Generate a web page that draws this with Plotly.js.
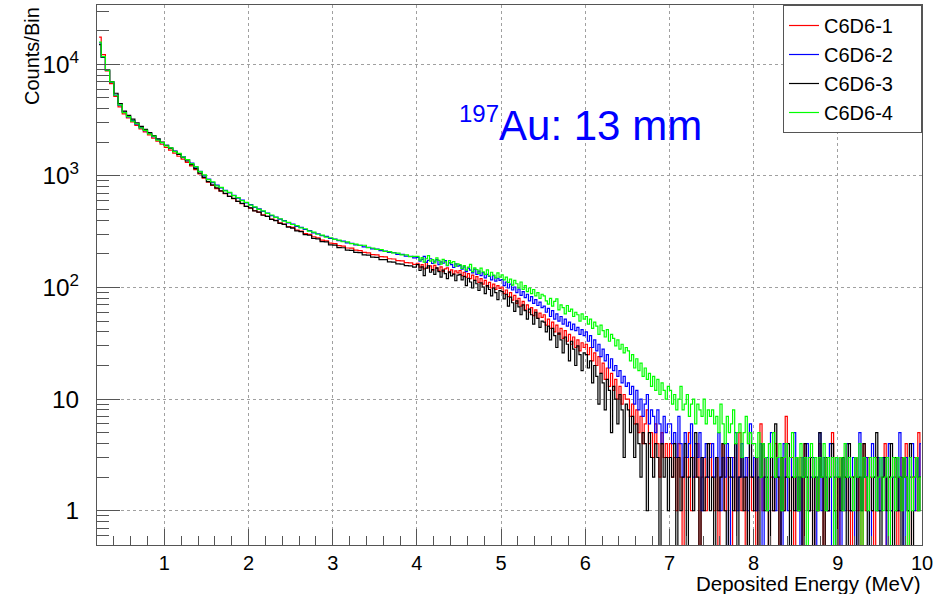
<!DOCTYPE html>
<html>
<head>
<meta charset="utf-8">
<script src="https://cdn.plot.ly/plotly-3.0.1.min.js"></script>
<style>
  html, body { margin: 0; padding: 0; background: #ffffff; }
  #chart { width: 950px; height: 594px; }
</style>
</head>
<body>
<div id="chart"></div>
<script>
// Histogram binning (deposited energy, MeV): coarse part + fine part
const lowMin = 0.2, lowMax = 4.0, lowBins = 76;     // 0.05 MeV bins
const highMin = 4.0, highMax = 10.0, highBins = 240; // 0.025 MeV bins

const seriesNames = ['C6D6-1', 'C6D6-2', 'C6D6-3', 'C6D6-4'];
const seriesColors = ['#ff0000', '#0000ff', '#000000', '#00ff00'];

// ---- counts per bin (0 = empty bin) ----
// C6D6-1 (red)
const c1Low = [
  17500, 12200, 8700, 6700, 5150, 4150, 3600, 3300, 3050, 2840,
  2640, 2480, 2330, 2180, 2050, 1920, 1800, 1700, 1600, 1500,
  1410, 1320, 1230, 1140, 1040, 955, 880, 820, 770, 730,
  693, 654, 625, 590, 565, 533, 515, 487, 473, 447,
  434, 411, 400, 380, 370, 352, 345, 327, 320, 304,
  299, 285, 279, 266, 262, 250, 247, 237, 235, 226,
  225, 216, 214, 206, 204, 197, 196, 189, 188, 181,
  180, 174, 173, 167, 166, 161
];
const c1High = [
  165, 152, 160, 147, 168, 150, 156, 143, 158, 149, 141, 153, 139, 147, 150, 136, 144, 132, 141, 135,
  142, 128, 137, 124, 133, 120, 129, 116, 125, 111, 120, 107, 116, 103, 111, 99, 107, 96, 104, 98,
  101, 88, 95, 83, 90, 77, 85, 72, 80, 68, 75, 63, 70, 60, 66, 56, 63, 53, 59, 54,
  57, 46, 52, 43, 49, 40, 46, 38, 43, 35, 41, 33, 38, 31, 36, 29, 34, 27, 32, 29,
  31, 25, 29, 22, 26, 20, 24, 17, 21, 15, 19, 13, 17, 12, 15, 10, 13, 9, 11, 10,
  10, 7, 9, 6, 8, 5, 7, 4, 6, 8, 4, 5, 3, 6, 4, 2, 5, 3, 4, 3,
  4, 2, 3, 1, 4, 2, 0, 3, 2, 5, 1, 3, 2, 4, 0, 2, 3, 1, 2, 4,
  2, 1, 3, 0, 2, 4, 1, 3, 2, 0, 3, 1, 2, 5, 1, 2, 0, 3, 2, 1,
  3, 0, 2, 6, 1, 2, 3, 0, 2, 1, 4, 2, 0, 3, 1, 7, 2, 1, 3, 0,
  2, 1, 3, 0, 4, 2, 1, 3, 0, 2, 1, 4, 2, 0, 3, 1, 2, 5, 1, 2,
  0, 3, 1, 2, 4, 1, 0, 2, 3, 1, 2, 0, 4, 1, 3, 2, 1, 0, 3, 2,
  1, 2, 4, 0, 2, 1, 3, 2, 0, 1, 3, 2, 4, 1, 0, 2, 3, 1, 5, 2
];
// C6D6-2 (blue)
const c2Low = [
  15500, 11500, 8800, 6900, 5300, 4300, 3720, 3380, 3130, 2900,
  2710, 2540, 2400, 2250, 2120, 1980, 1880, 1770, 1670, 1570,
  1480, 1390, 1300, 1200, 1100, 1000, 935, 870, 825, 780,
  742, 703, 668, 631, 606, 574, 552, 523, 506, 481,
  464, 441, 428, 409, 397, 380, 370, 353, 345, 331,
  323, 309, 303, 291, 287, 276, 272, 263, 260, 251,
  249, 241, 239, 231, 229, 222, 221, 214, 212, 206,
  205, 198, 198, 191, 190, 184
];
const c2High = [
  186, 172, 179, 190, 168, 175, 181, 164, 172, 178, 160, 170, 165, 174, 157, 166, 160, 151, 163, 155,
  158, 146, 153, 139, 149, 143, 135, 146, 131, 140, 128, 136, 122, 131, 126, 117, 128, 114, 121, 116,
  118, 104, 112, 99, 107, 95, 101, 90, 97, 85, 92, 81, 87, 76, 83, 72, 78, 69, 74, 66,
  68, 60, 65, 55, 62, 52, 58, 50, 55, 47, 52, 45, 49, 42, 47, 41, 44, 38, 42, 37,
  40, 33, 37, 29, 34, 27, 31, 24, 28, 22, 25, 19, 23, 18, 20, 16, 18, 14, 16, 13,
  14, 11, 13, 9, 12, 8, 10, 7, 9, 11, 6, 8, 7, 5, 8, 6, 4, 7, 5, 6,
  6, 4, 5, 3, 7, 4, 2, 5, 3, 4, 6, 2, 4, 3, 5, 1, 3, 4, 2, 3,
  4, 2, 3, 5, 1, 3, 2, 4, 0, 3, 2, 5, 1, 2, 4, 2, 3, 1, 6, 2,
  3, 1, 2, 4, 0, 2, 3, 1, 5, 2, 1, 3, 2, 0, 4, 2, 1, 3, 2, 5,
  1, 2, 0, 3, 2, 4, 1, 2, 3, 0, 2, 5, 1, 3, 2, 1, 4, 0, 2, 3,
  2, 0, 3, 1, 4, 2, 1, 3, 0, 2, 5, 1, 2, 3, 1, 0, 4, 2, 1, 3,
  1, 3, 2, 0, 4, 1, 2, 3, 1, 5, 2, 0, 3, 1, 2, 4, 1, 3, 2, 4
];
// C6D6-3 (black)
const c3Low = [
  15000, 11600, 8900, 7000, 5500, 4450, 3800, 3480, 3220, 2990,
  2780, 2610, 2440, 2290, 2150, 2010, 1880, 1770, 1660, 1560,
  1460, 1360, 1260, 1160, 1060, 970, 890, 830, 780, 735,
  696, 655, 628, 590, 568, 533, 517, 486, 474, 444,
  434, 408, 398, 376, 368, 347, 340, 322, 317, 298,
  294, 276, 273, 258, 256, 241, 240, 228, 227, 216,
  215, 206, 205, 196, 195, 187, 186, 178, 178, 170,
  169, 163, 162, 157, 156, 152
];
const c3High = [
  160, 142, 153, 128, 149, 156, 137, 145, 131, 150, 139, 124, 143, 133, 120, 138, 127, 132, 115, 129,
  131, 117, 126, 104, 121, 112, 99, 116, 108, 94, 110, 101, 88, 104, 96, 84, 99, 90, 78, 94,
  92, 79, 87, 68, 82, 73, 61, 76, 67, 57, 70, 62, 52, 64, 57, 47, 60, 53, 44, 50,
  49, 40, 45, 34, 43, 37, 29, 39, 34, 26, 36, 31, 22, 33, 28, 20, 30, 25, 18, 26,
  25, 19, 22, 14, 20, 16, 9, 17, 14, 8, 15, 12, 5, 13, 10, 6, 11, 8, 3, 9,
  8, 5, 7, 3, 6, 4, 2, 5, 4, 1, 5, 3, 2, 4, 3, 0, 4, 2, 3, 1,
  3, 2, 4, 0, 3, 1, 2, 4, 0, 2, 3, 1, 5, 2, 0, 3, 1, 2, 4, 1,
  2, 0, 3, 1, 2, 4, 1, 0, 3, 2, 1, 4, 0, 2, 3, 1, 2, 0, 5, 2,
  1, 3, 0, 2, 4, 1, 2, 0, 3, 1, 6, 2, 0, 3, 1, 2, 4, 0, 2, 1,
  3, 1, 2, 0, 4, 2, 1, 3, 0, 2, 1, 5, 2, 0, 3, 1, 2, 4, 1, 0,
  2, 1, 3, 2, 0, 4, 1, 2, 3, 0, 2, 1, 4, 2, 0, 3, 1, 2, 5, 1,
  0, 2, 3, 1, 2, 4, 0, 3, 1, 2, 0, 3, 2, 1, 4, 0, 2, 3, 1, 2
];
// C6D6-4 (green)
const c4Low = [
  15800, 11700, 8850, 6950, 5280, 4320, 3690, 3400, 3100, 2930,
  2690, 2560, 2380, 2270, 2090, 1990, 1860, 1780, 1650, 1590,
  1470, 1400, 1290, 1210, 1090, 1020, 925, 885, 815, 790,
  735, 712, 665, 638, 600, 580, 548, 528, 502, 486,
  461, 446, 425, 413, 394, 384, 367, 358, 342, 336,
  320, 314, 300, 295, 283, 279, 270, 266, 257, 256,
  247, 245, 238, 239, 228, 226, 220, 218, 211, 210,
  204, 203, 196, 196, 189, 190
];
const c4High = [
  190, 176, 185, 169, 181, 193, 172, 178, 166, 184, 175, 162, 179, 170, 158, 174, 166, 171, 155, 163,
  160, 148, 157, 143, 152, 161, 139, 150, 145, 134, 149, 138, 131, 144, 127, 137, 129, 122, 135, 124,
  130, 117, 124, 111, 119, 105, 116, 108, 99, 112, 96, 104, 92, 99, 88, 96, 84, 90, 80, 87,
  84, 76, 71, 80, 68, 75, 79, 63, 70, 66, 58, 69, 61, 64, 55, 60, 57, 50, 58, 52,
  55, 47, 52, 43, 49, 45, 38, 46, 41, 36, 42, 33, 38, 35, 30, 34, 28, 31, 26, 29,
  27, 22, 25, 19, 23, 18, 21, 16, 19, 15, 17, 13, 16, 12, 15, 11, 14, 12, 10, 13,
  12, 9, 11, 8, 10, 13, 8, 9, 11, 7, 9, 10, 6, 9, 8, 7, 10, 6, 8, 7,
  8, 6, 7, 5, 9, 6, 4, 7, 5, 6, 8, 4, 5, 6, 3, 5, 7, 4, 5, 4,
  4, 3, 5, 2, 4, 3, 1, 4, 3, 5, 2, 3, 4, 1, 3, 4, 2, 3, 5, 2,
  3, 1, 4, 2, 3, 0, 3, 4, 2, 3, 1, 3, 2, 4, 1, 3, 2, 3, 0, 3,
  2, 3, 1, 4, 2, 3, 2, 1, 3, 2, 4, 0, 3, 2, 1, 3, 2, 3, 1, 2,
  3, 1, 2, 3, 0, 2, 3, 1, 3, 2, 1, 3, 2, 0, 3, 1, 2, 3, 1, 2
];

const lowParts = [c1Low, c2Low, c3Low, c4Low];
const highParts = [c1High, c2High, c3High, c4High];

// bin centres from the binning definition
const lowW = (lowMax - lowMin) / lowBins;
const highW = (highMax - highMin) / highBins;
const energyLow = c1Low.map((_, i) => lowMin + (i + 0.5) * lowW);
const energyHigh = c1High.map((_, i) => highMin + (i + 0.5) * highW);
const energy = energyLow.concat(energyHigh);

// empty bins are drawn down to the bottom of the frame, as ROOT does
const emptyDrawLevel = 0.3;
const NB = '\u00a0';

const traces = lowParts.map((low, k) => ({
  type: 'scatter',
  mode: 'lines',
  name: seriesNames[k] + NB + NB + NB + NB,
  x: energy,
  y: low.concat(highParts[k]).map(v => (v > 0 ? v : emptyDrawLevel)),
  line: { color: seriesColors[k], width: 1.2, shape: 'hvh' }
}));

const FONT = '"Liberation Sans", Arial, Helvetica, sans-serif';
const axisColor = '#555555';

const layout = {
  width: 950,
  height: 594,
  margin: { l: 97, r: 28, t: 5, b: 49 },
  paper_bgcolor: '#ffffff',
  plot_bgcolor: '#ffffff',
  font: { family: FONT, size: 20, color: '#000000' },
  showlegend: true,
  legend: {
    x: 1, y: 1, xanchor: 'right', yanchor: 'top',
    bgcolor: '#ffffff', bordercolor: axisColor, borderwidth: 1,
    font: { family: FONT, size: 20, color: '#000000' },
    itemwidth: 30, tracegroupgap: 5
  },
  xaxis: {
    range: [lowMin, highMax],
    tickmode: 'linear', tick0: 0, dtick: 1,
    ticks: 'inside', ticklen: 16, tickcolor: axisColor, tickwidth: 1,
    showline: true, mirror: true, linecolor: axisColor, linewidth: 1,
    showgrid: true, gridcolor: '#a0a0a0', griddash: 'dot', gridwidth: 1,
    zeroline: false,
    tickfont: { family: FONT, size: 20, color: '#000000' },
    minor: { ticks: 'inside', ticklen: 9, dtick: 0.2, tickcolor: axisColor, tickwidth: 1, showgrid: false }
  },
  yaxis: {
    type: 'log',
    range: [-0.307, 4.531],
    dtick: 1,
    exponentformat: 'power',
    ticks: 'inside', ticklen: 23, tickcolor: axisColor, tickwidth: 1,
    showline: true, mirror: true, linecolor: axisColor, linewidth: 1,
    showgrid: true, gridcolor: '#a0a0a0', griddash: 'dot', gridwidth: 1,
    zeroline: false,
    ticklabelstandoff: 13,
    tickfont: { family: FONT, size: 19.5, color: '#000000' },
    minor: { ticks: 'inside', ticklen: 12, tickcolor: axisColor, tickwidth: 1, showgrid: false }
  }
};

const annotations = [
  {
    text: '<sup><span style="font-size:24px">197</span></sup>Au: 13 mm',
    xref: 'paper', yref: 'paper',
    x: 0.4364, y: 0.778, xanchor: 'left', yanchor: 'middle',
    showarrow: false,
    font: { family: FONT, size: 42, color: '#0000ff' }
  },
  {
    text: 'Counts/Bin',
    xref: 'paper', yref: 'paper',
    x: 0, y: 1, xanchor: 'center', yanchor: 'top',
    xshift: -65,
    textangle: -90,
    showarrow: false,
    font: { family: FONT, size: 20, color: '#000000' }
  },
  {
    text: 'Deposited Energy (MeV)',
    xref: 'paper', yref: 'paper',
    x: 1, y: 0, xanchor: 'right', yanchor: 'top',
    yshift: -25,
    showarrow: false,
    font: { family: FONT, size: 20.5, color: '#000000' }
  }
];

Plotly.newPlot('chart', traces, layout, { displayModeBar: false, staticPlot: true })
  .then(gd => Plotly.relayout(gd, { annotations: annotations }))
  .then(gd => Plotly.relayout(gd, {
    'xaxis.ticks': 'inside', 'yaxis.ticks': 'inside',
    'xaxis.ticklen': 16, 'yaxis.ticklen': 23,
    'xaxis.minor.ticks': 'inside', 'yaxis.minor.ticks': 'inside'
  }));
</script>
</body>
</html>
